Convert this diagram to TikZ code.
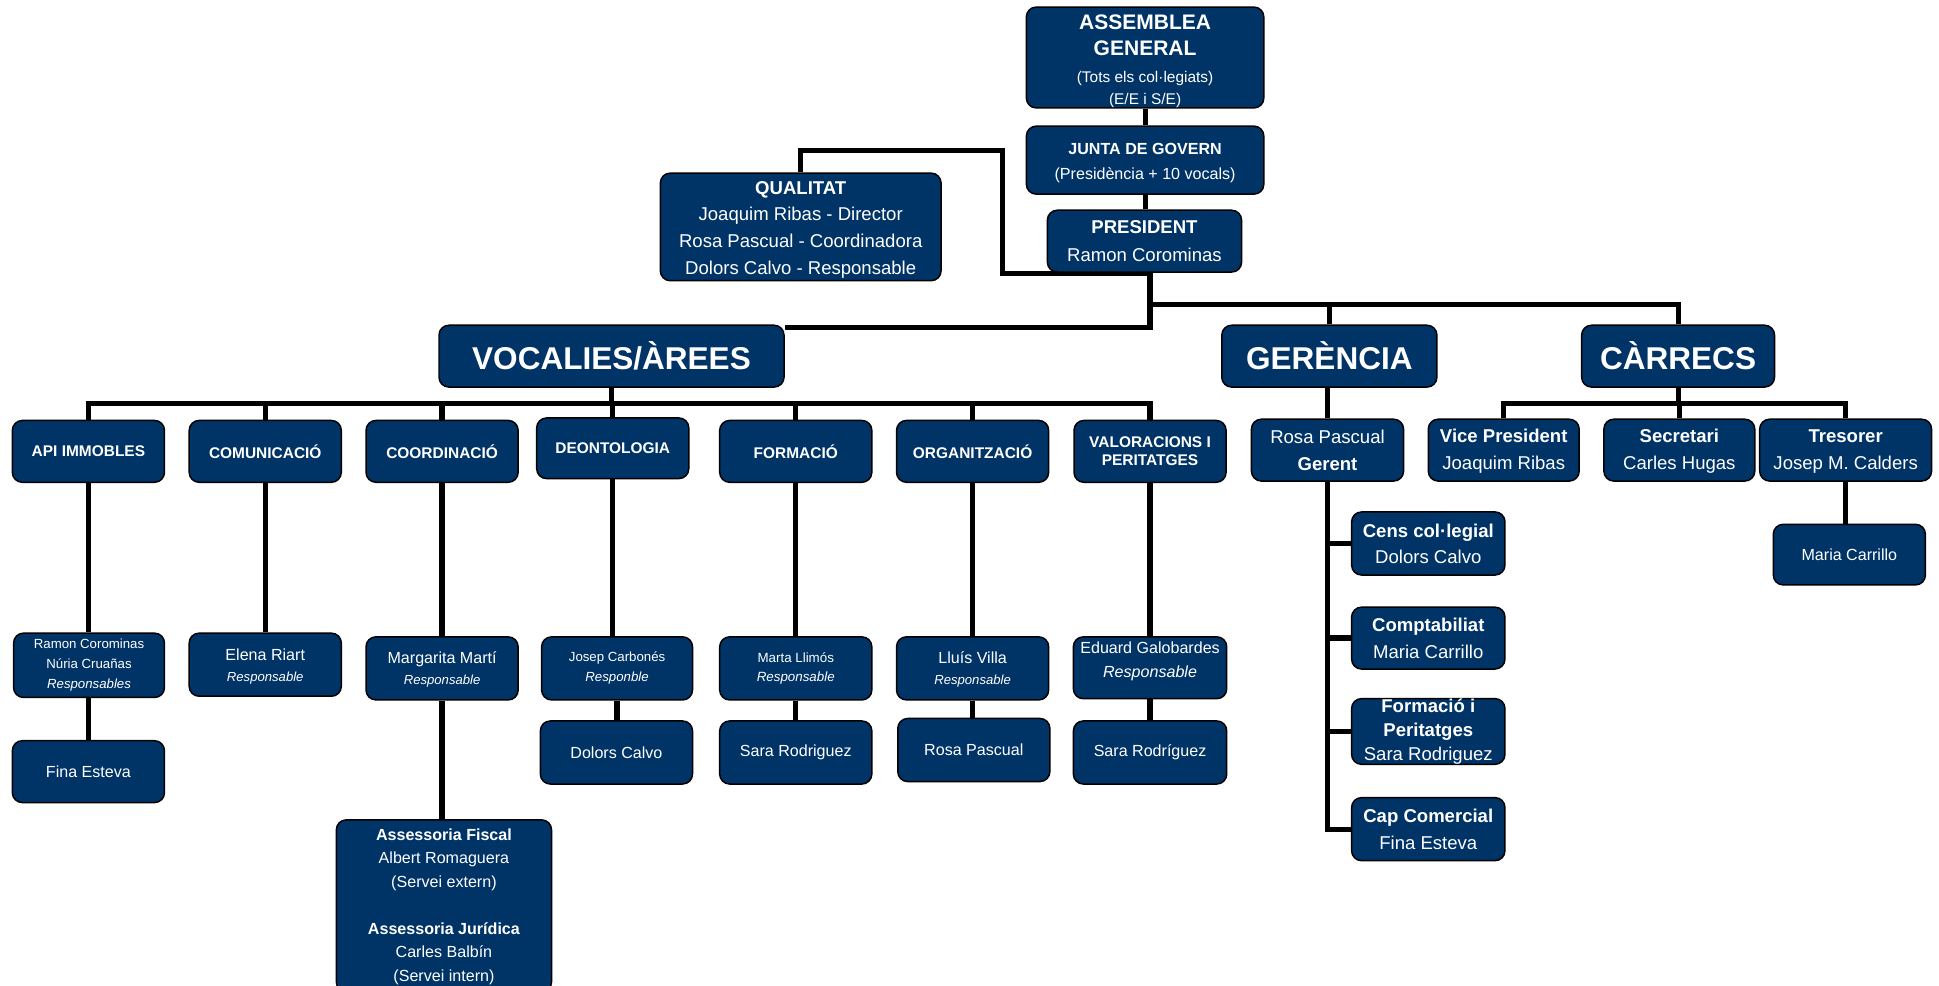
\documentclass[tikz,border=0pt]{standalone}
\usepackage{fontspec}
\setmainfont{Liberation Sans}
\usetikzlibrary{backgrounds}
\definecolor{navy}{RGB}{0,51,102}
\newcommand{\fsz}[2]{\fontsize{#1}{#2}\selectfont}
\begin{document}
\begin{tikzpicture}[x=1pt,y=-1pt,
  box/.style={draw=black, line width=1.2pt, fill=navy, rounded corners=8pt, text=white, align=center, inner sep=0pt},
  bx/.style 2 args={box, minimum width=#1pt, minimum height=#2pt},
  conn/.style={line width=4.2pt, draw=black},
  area/.style={bx={123}{50}, font=\fsz{12.5}{15}\bfseries},
  big/.style={bx={#1}{50}, font=\fsz{25.5}{30}\bfseries}]
\path[use as bounding box] (0,0) rectangle (1568,797);

% top
\node[bx={192}{79}, font=\fsz{17}{21}] (ag) at (926,46.5)
  {\rule{0pt}{18pt}\bfseries ASSEMBLEA\\\bfseries GENERAL\\[1pt]\fsz{12.5}{18}(Tots els col·legiats)\\[-3pt]\fsz{12.5}{18}(E/E i S/E)};
\node[bx={192}{55}, font=\fsz{13}{20}] (jg) at (926,129.5)
  {\rule{0pt}{13.5pt}\bfseries JUNTA DE GOVERN\\(Presidència + 10 vocals)};
\node[bx={157}{50}, font=\fsz{15}{23}] (pres) at (925.5,195)
  {\bfseries PRESIDENT\\Ramon Corominas};
\node[bx={227}{87}, font=\fsz{15}{21.7}] (qual) at (647.5,183.5)
  {\rule{0pt}{15pt}\bfseries QUALITAT\\Joaquim Ribas - Director\\Rosa Pascual - Coordinadora\\Dolors Calvo - Responsable};

% second level
\node[big=279] (voc) at (494.5,288) {VOCALIES/ÀREES};
\node[big=174] (ger) at (1075,288) {GERÈNCIA};
\node[big=156] (car) at (1357,288) {CÀRRECS};

% areas
\node[area] (api) at (71.5,365) {API IMMOBLES};
\node[area] (com) at (214.5,365) {COMUNICACIÓ};
\node[area] (coord) at (357.5,365) {COORDINACIÓ};
\node[area, minimum height=49pt] (deon) at (495.5,362.5) {DEONTOLOGIA};
\node[area] (form) at (643.5,365) {FORMACIÓ};
\node[area] (org) at (786.5,365) {ORGANITZACIÓ};
\node[area] (val) at (930,365) {VALORACIONS I\\PERITATGES};

% responsables
\node[bx={122}{52}, font=\fsz{10.7}{16}] (apir) at (72,538)
  {Ramon Corominas\\Núria Cruañas\\\itshape Responsables};
\node[bx={123}{51}, font=\fsz{13}{17}] (comr) at (214.5,537.5)
  {\rule{0pt}{12pt}Elena Riart\\\fsz{10.6}{17}\itshape Responsable};
\node[bx={123}{51}, font=\fsz{13}{17}] (coordr) at (357.5,540.5)
  {\rule{0pt}{12pt}Margarita Martí\\\fsz{10.6}{17}\itshape Responsable};
\node[bx={122}{51}, font=\fsz{10.7}{16}] (deonr) at (499,540.5)
  {Josep Carbonés\\\itshape Responble};
\node[bx={123}{51}, font=\fsz{10.8}{15}] (formr) at (643.5,540.5)
  {Marta Llimós\\\itshape Responsable};
\node[bx={123}{51}, font=\fsz{13}{17}] (orgr) at (786.5,540.5)
  {\rule{0pt}{12pt}Lluís Villa\\\fsz{10.6}{17}\itshape Responsable};
\node[bx={124}{50}, font=\fsz{13}{19}] (valr) at (930,540)
  {Eduard Galobardes\\\itshape Responsable\\[-6pt]\mbox{}};

% third row
\node[bx={123}{50}, font=\fsz{13}{16}] (apif) at (71.5,624) {Fina Esteva};
\node[bx={123}{51}, font=\fsz{13}{16}] (deonf) at (498.5,608.5) {Dolors Calvo};
\node[bx={123}{51}, font=\fsz{13}{16}] (formf) at (643.5,608.5) {Sara Rodriguez};
\node[bx={123}{51}, font=\fsz{13}{16}] (orgf) at (787.5,606.5) {Rosa Pascual};
\node[bx={124}{51}, font=\fsz{13}{16}] (valf) at (930,608.5) {Sara Rodríguez};
\node[bx={174}{139}, font=\fsz{13}{19}] (ass) at (359,732.5)
  {\rule{0pt}{11pt}\bfseries Assessoria Fiscal\\Albert Romaguera\\(Servei extern)\\[19pt]\bfseries Assessoria Jurídica\\Carles Balbín\\(Servei intern)};

% gerencia
\node[bx={123}{50}, font=\fsz{15}{22}] (gerent) at (1073.5,364) {Rosa Pascual\\\bfseries Gerent};
\node[bx={124}{51}, font=\fsz{15}{21}] (cens) at (1155,439.5) {\bfseries Cens col·legial\\Dolors Calvo};
\node[bx={124}{50}, font=\fsz{15}{22}] (comp) at (1155,516) {\bfseries Comptabiliat\\Maria Carrillo};
\node[bx={124}{51}, font=\fsz{15}{19.5}] (formg) at (1155,591.5) {\bfseries Formació i\\\bfseries Peritatges\\Sara Rodriguez};
\node[bx={124}{51}, font=\fsz{15}{22}] (cap) at (1155,670.5) {\bfseries Cap Comercial\\Fina Esteva};

% carrecs
\node[bx={122}{50}, font=\fsz{15}{22}] (vp) at (1216,364) {\rule{0pt}{13pt}\bfseries Vice President\\Joaquim Ribas};
\node[bx={122}{50}, font=\fsz{15}{22}] (sec) at (1358,364) {\rule{0pt}{13pt}\bfseries Secretari\\Carles Hugas};
\node[bx={139}{50}, font=\fsz{15}{22}] (tres) at (1492.5,364) {\rule{0pt}{13pt}\bfseries Tresorer\\Josep M. Calders};
\node[bx={123}{49}, font=\fsz{13}{16}] (mc) at (1495.5,448.5) {Maria Carrillo};

\begin{scope}[on background layer]
  \fill[white] (0,0) rectangle (1568,797);
  \coordinate (qa) at (811,122);
  \coordinate (qb) at (811,221);
  \coordinate (hub) at (930,221);
  \coordinate (vj) at (930,265);
  \coordinate (rj) at (930,246);
  \coordinate (vb) at (494,326);
  \coordinate (cb) at (1358,326);
  \draw[conn] (ag.south) -- (jg.north);
  \draw[conn] (jg.south) -- (jg.south |- pres.north);
  \draw[conn] (qual.north) |- (qa) -- (qb) -- (hub);
  \draw[conn] (hub) -- (vj) -- (vj -| voc.east);
  \draw[conn] (rj) -| (car.north);
  \draw[conn] (ger.north) -- (ger.north |- rj);
  \draw[conn] (voc.south) -- (voc.south |- vb);
  \draw[conn] (api.north) |- (vb) -| (val.north);
  \foreach \n in {com,coord,deon,form,org} \draw[conn] (\n.north) -- (\n.north |- vb);
  \draw[conn] (api.south) -- (api.south |- apir.north);
  \draw[conn] (apif.north) -- (apif.north |- apir.south);
  \draw[conn] (com.south) -- (comr.north);
  \draw[conn] (coord.south) -- (coordr.north);
  \draw[conn] (coordr.south) -- (coordr.south |- ass.north);
  \draw[conn] (deon.south) -- (deon.south |- deonr.north);
  \draw[conn] (deonr.south) -- (deonr.south |- deonf.north);
  \draw[conn] (form.south) -- (formr.north);
  \draw[conn] (formr.south) -- (formf.north);
  \draw[conn] (org.south) -- (org.south |- orgr.north);
  \draw[conn] (orgr.south) -- (orgr.south |- orgf.north);
  \draw[conn] (val.south) -- (valr.north);
  \draw[conn] (valr.south) -- (valf.north);
  \draw[conn] (gerent.north) -- (gerent.north |- ger.south);
  \draw[conn] (gerent.south) |- (cap.west);
  \foreach \n in {cens,comp,formg} \draw[conn] (\n.west) -- (\n.west -| gerent.south);
  \draw[conn] (car.south) -- (car.south |- cb);
  \draw[conn] (vp.north) |- (cb) -| (tres.north);
  \draw[conn] (sec.north) -- (sec.north |- cb);
  \draw[conn] (tres.south) -- (tres.south |- mc.north);
\end{scope}
\end{tikzpicture}
\end{document}
